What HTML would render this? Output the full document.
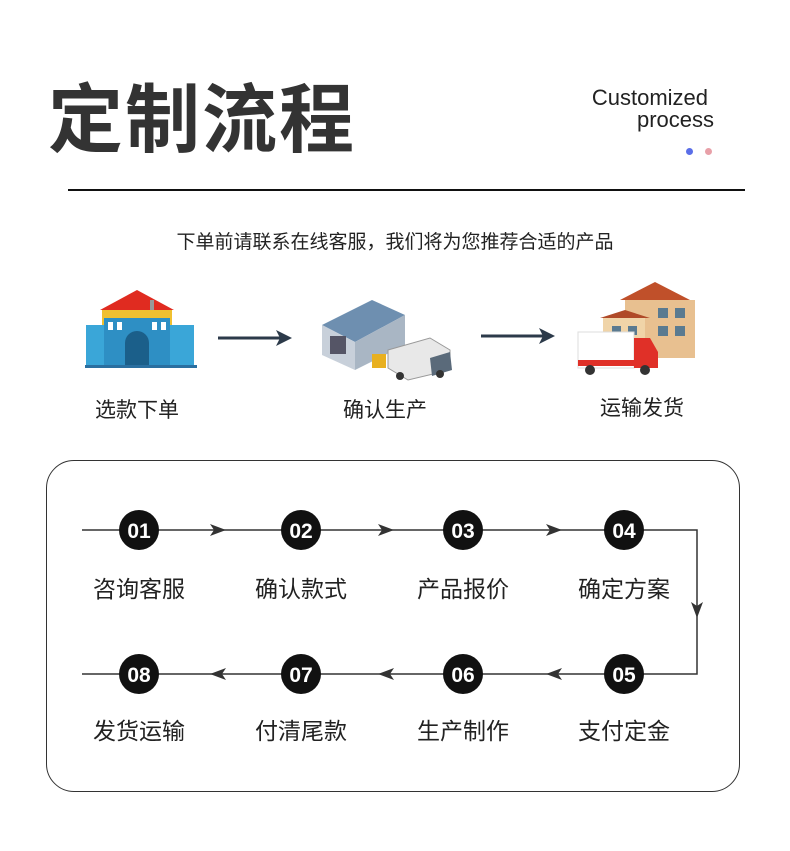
<!DOCTYPE html>
<html><head><meta charset="utf-8"><style>
body{margin:0;width:790px;height:851px;background:#fff;position:relative;overflow:hidden;font-family:"Liberation Sans","Noto Sans CJK SC",sans-serif;}
.a{position:absolute;white-space:nowrap}
</style></head><body>
<div class="a" style="left:48px;top:70px;font-size:75px;font-weight:bold;color:#333;letter-spacing:2px;line-height:100px">定制流程</div>
<div class="a" style="left:560px;top:86px;width:148px;text-align:right;font-size:22px;color:#222;line-height:24px">Customized</div>
<div class="a" style="left:560px;top:108px;width:154px;text-align:right;font-size:22px;color:#222;line-height:24px">process</div>
<div class="a" style="left:686px;top:148px;width:7px;height:7px;border-radius:50%;background:#5a6ee8"></div>
<div class="a" style="left:705px;top:148px;width:7px;height:7px;border-radius:50%;background:#e8a0a8"></div>
<div class="a" style="left:68px;top:189px;width:677px;height:2px;background:#111"></div>
<div class="a" style="left:0;width:790px;top:227px;text-align:center;font-size:19px;color:#222">下单前请联系在线客服，我们将为您推荐合适的产品</div>

<svg class="a" style="left:0;top:270px" width="790" height="120">
<polygon points="100,40 137,20 174,40" fill="#e02b20"/>
<rect x="150" y="30" width="4" height="10" fill="#999"/>
<rect x="102" y="40" width="70" height="30" fill="#f0c030"/>
<rect x="86" y="55" width="22" height="40" fill="#3aa6d8"/>
<rect x="166" y="55" width="28" height="40" fill="#3aa6d8"/>
<rect x="104" y="48" width="66" height="47" fill="#2e8fc4"/>
<path d="M125,95 v-22 a12,12 0 0 1 24,0 v22z" fill="#1b5f8a"/>
<g fill="#fff"><rect x="108" y="52" width="5" height="8"/><rect x="117" y="52" width="5" height="8"/><rect x="152" y="52" width="5" height="8"/><rect x="161" y="52" width="5" height="8"/></g>
<rect x="85" y="95" width="112" height="3" fill="#2a6fa0"/>
<line x1="218" y1="68" x2="282" y2="68" stroke="#2c3a4a" stroke-width="3"/>
<polygon points="292,68 276,60 280,68 276,76" fill="#2c3a4a"/>
<polygon points="322,55 372,30 405,45 355,72" fill="#6e8fb0"/>
<polygon points="322,55 355,72 355,100 322,85" fill="#c8d0da"/>
<polygon points="355,72 405,45 405,75 355,100" fill="#a9b6c4"/>
<rect x="330" y="66" width="16" height="18" fill="#556"/>
<polygon points="388,80 430,68 450,80 450,100 408,110 388,98" fill="#e8e8e8" stroke="#999"/>
<polygon points="430,88 450,82 452,100 432,106" fill="#5a6a7a"/>
<circle cx="400" cy="106" r="4" fill="#333"/><circle cx="440" cy="104" r="4" fill="#333"/>
<rect x="372" y="84" width="14" height="14" fill="#e8b020"/>
<line x1="481" y1="66" x2="545" y2="66" stroke="#2c3a4a" stroke-width="3"/>
<polygon points="555,66 539,58 543,66 539,74" fill="#2c3a4a"/>
<polygon points="620,30 655,12 690,30" fill="#c0502a"/>
<rect x="625" y="30" width="70" height="58" fill="#e8c090"/>
<polygon points="600,48 625,40 650,48" fill="#b04a28"/>
<rect x="603" y="48" width="42" height="40" fill="#f0d4a8"/>
<g fill="#5a7a90"><rect x="658" y="38" width="10" height="10"/><rect x="675" y="38" width="10" height="10"/><rect x="658" y="56" width="10" height="10"/><rect x="675" y="56" width="10" height="10"/><rect x="612" y="56" width="9" height="9"/><rect x="628" y="56" width="9" height="9"/></g>
<rect x="578" y="62" width="56" height="36" fill="#fff" stroke="#ddd"/>
<rect x="578" y="90" width="56" height="6" fill="#e03028"/>
<polygon points="634,68 650,68 658,82 658,98 634,98" fill="#e03028"/>
<circle cx="590" cy="100" r="5" fill="#333"/><circle cx="645" cy="100" r="5" fill="#333"/>
</svg>
<div class="a" style="left:82px;top:394px;width:110px;text-align:center;font-size:21px;color:#222">选款下单</div>
<div class="a" style="left:330px;top:394px;width:110px;text-align:center;font-size:21px;color:#222">确认生产</div>
<div class="a" style="left:587px;top:392px;width:110px;text-align:center;font-size:21px;color:#222">运输发货</div>

<div class="a" style="left:46px;top:460px;width:692px;height:330px;border:1px solid #333;border-radius:28px"></div>

<svg class="a" style="left:0;top:0" width="790" height="851">
<g stroke="#333" stroke-width="1.5" fill="none">
<polyline points="82,530 697,530 697,674 82,674"/>
</g>
<g fill="#333">
<polygon points="226,530 210,524 214,530 210,536"/>
<polygon points="394,530 378,524 382,530 378,536"/>
<polygon points="562,530 546,524 550,530 546,536"/>
<polygon points="697,618 691,602 697,606 703,602"/>
<polygon points="546,674 562,668 558,674 562,680"/>
<polygon points="378,674 394,668 390,674 394,680"/>
<polygon points="210,674 226,668 222,674 226,680"/>
</g>
<g fill="#111">
<circle cx="139" cy="530" r="20"/><circle cx="301" cy="530" r="20"/><circle cx="463" cy="530" r="20"/><circle cx="624" cy="530" r="20"/>
<circle cx="139" cy="674" r="20"/><circle cx="301" cy="674" r="20"/><circle cx="463" cy="674" r="20"/><circle cx="624" cy="674" r="20"/>
</g>
<g fill="#fff" font-family="Liberation Sans, sans-serif" font-weight="bold" font-size="21" text-anchor="middle">
<text x="139" y="538">01</text><text x="301" y="538">02</text><text x="463" y="538">03</text><text x="624" y="538">04</text>
<text x="139" y="682">08</text><text x="301" y="682">07</text><text x="463" y="682">06</text><text x="624" y="682">05</text>
</g>
<g fill="#222" font-family="Liberation Sans, Noto Sans CJK SC, sans-serif" font-size="23" text-anchor="middle">
<text x="139" y="597">咨询客服</text><text x="301" y="597">确认款式</text><text x="463" y="597">产品报价</text><text x="624" y="597">确定方案</text>
<text x="139" y="739">发货运输</text><text x="301" y="739">付清尾款</text><text x="463" y="739">生产制作</text><text x="624" y="739">支付定金</text>
</g>
</svg>
</body></html>
